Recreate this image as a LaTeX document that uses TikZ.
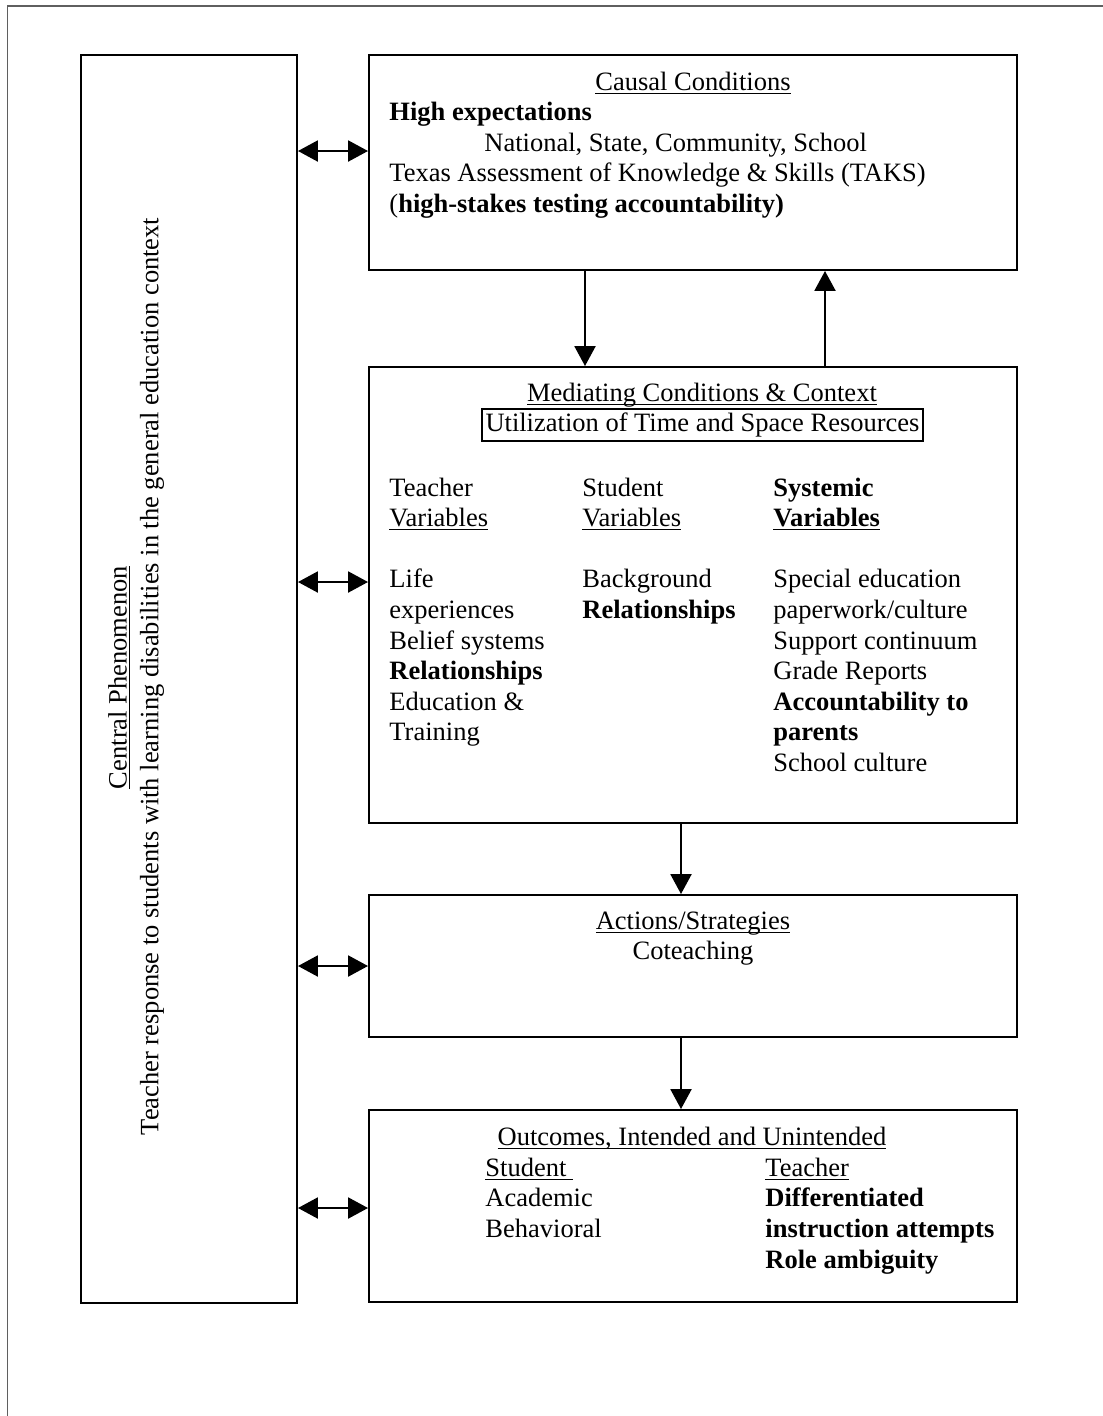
\documentclass[tikz,border=0pt]{standalone}
\usepackage{fontspec}
\setmainfont{Liberation Serif}
\usetikzlibrary{arrows.meta}
\definecolor{framegray}{RGB}{95,95,95}
\newcommand\myul[1]{\setbox0=\hbox{#1}\rlap{\rule[-1.7pt]{\wd0}{0.5pt}}\box0}
\begin{document}
\begin{tikzpicture}[x=0.4528pt,y=-0.4528pt,
  font=\fontsize{12pt}{14pt}\selectfont,
  box/.style={draw, line width=0.9pt, inner sep=0pt},
  t/.style={anchor=base west, inner sep=0pt},
  tc/.style={anchor=base, inner sep=0pt},
  tip/.tip={Triangle[length=9pt,width=9.5pt]},
  arr/.style={line width=0.9pt, -tip},
  darr/.style={line width=0.9pt, tip-tip}]
\useasboundingbox (0,0) rectangle (1103,1416);
% outer frame
\draw[framegray, line width=0.9pt] (7.5,1416) -- (7.5,6) -- (1103,6);

% boxes
\node[box, minimum width=216*0.4528pt, minimum height=1248*0.4528pt] (left) at (189,679) {};
\node[box, minimum width=648*0.4528pt, minimum height=215*0.4528pt] (causal) at (693,162.5) {};
\node[box, minimum width=648*0.4528pt, minimum height=456*0.4528pt] (med) at (693,595) {};
\node[box, minimum width=648*0.4528pt, minimum height=142*0.4528pt] (act) at (693,966) {};
\node[box, minimum width=648*0.4528pt, minimum height=192*0.4528pt] (out) at (693,1206) {};

% left box text
\node[rotate=90, anchor=base, inner sep=0pt] (cp) at (126.7,677.5) {\myul{Central Phenomenon}};
\node[rotate=90, anchor=base, inner sep=0pt] (tr) at (158.3,676.5) {Teacher response to students with learning disabilities in the general education context};

% causal
\node[tc] (cc) at (693,90) {\myul{Causal Conditions}};
\node[t] (c1) at (389,120.6) {\textbf{High expectations}};
\node[t] (c2) at (484,151.2) {National, State, Community, School};
\node[t] (c3) at (389,181.8) {Texas Assessment of Knowledge \& Skills (TAKS)};
\node[t] (c4) at (389,212.4) {(\textbf{high-stakes testing accountability)}};

% mediating
\node[tc] (mh) at (702,401.7) {\myul{Mediating Conditions \& Context}};
\node[draw, line width=0.8pt, inner sep=0pt, minimum width=441*0.4528pt, minimum height=31.7*0.4528pt] (mu) at (702.5,425.2) {Utilization of Time and Space Resources};

\node[t] (a1) at (389,496) {Teacher};
\node[t] (a2) at (389,526.6) {\myul{Variables}};
\node[t] (a3) at (389,587.8) {Life};
\node[t] (a4) at (389,618.4) {experiences};
\node[t] (a5) at (389,649) {Belief systems};
\node[t] (a6) at (389,679.6) {\textbf{Relationships}};
\node[t] (a7) at (389,710.2) {Education \&};
\node[t] (a8) at (389,740.8) {Training};

\node[t] (b1) at (582,496) {Student};
\node[t] (b2) at (582,526.6) {\myul{Variables}};
\node[t] (b3) at (582,587.8) {Background};
\node[t] (b4) at (582,618.4) {\textbf{Relationships}};

\node[t] (s1) at (773,496) {\textbf{Systemic}};
\node[t] (s2) at (773,526.6) {\textbf{\myul{Variables}}};
\node[t] (s3) at (773,587.8) {Special education};
\node[t] (s4) at (773,618.4) {paperwork/culture};
\node[t] (s5) at (773,649) {Support continuum};
\node[t] (s6) at (773,679.6) {Grade Reports};
\node[t] (s7) at (773,710.2) {\textbf{Accountability to}};
\node[t] (s8) at (773,740.8) {\textbf{parents}};
\node[t] (s9) at (773,771.4) {School culture};

% actions
\node[tc] (ah) at (693,929.3) {\myul{Actions/Strategies}};
\node[tc] (a0) at (693,959.6) {Coteaching};

% outcomes
\node[tc] (oh) at (692,1145.6) {\myul{Outcomes, Intended and Unintended}};
\node[t] (o1) at (485,1176.2) {\myul{Student\ }};
\node[t] (o2) at (485,1206.8) {Academic};
\node[t] (o3) at (485,1237.4) {Behavioral};
\node[t] (p1) at (765,1176.2) {\myul{Teacher}};
\node[t] (p2) at (765,1206.8) {\textbf{Differentiated}};
\node[t] (p3) at (765,1237.4) {\textbf{instruction attempts}};
\node[t] (p4) at (765,1268) {\textbf{Role ambiguity}};

% connectors
\draw[darr] (left.east |- 0,151) -- (causal.west |- 0,151);
\draw[darr] (left.east |- 0,582) -- (med.west |- 0,582);
\draw[darr] (left.east |- 0,966) -- (act.west |- 0,966);
\draw[darr] (left.east |- 0,1208) -- (out.west |- 0,1208);
\draw[arr] (causal.south -| 585,0) -- (med.north -| 585,0);
\draw[arr] (med.north -| 825,0) -- (causal.south -| 825,0);
\draw[arr] (med.south -| 681,0) -- (act.north -| 681,0);
\draw[arr] (act.south -| 681,0) -- (out.north -| 681,0);
\end{tikzpicture}
\end{document}
